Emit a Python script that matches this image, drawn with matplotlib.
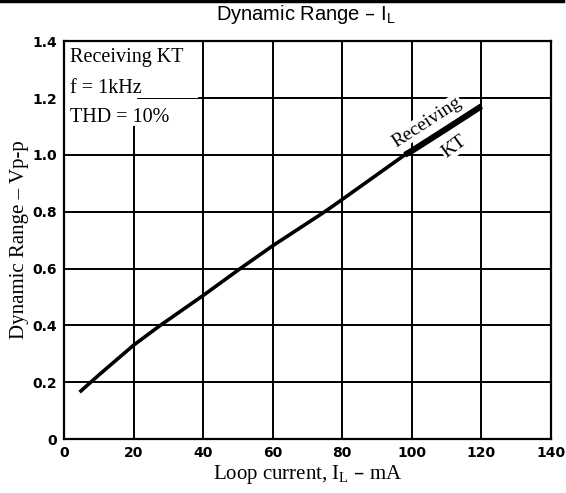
import matplotlib.pyplot as plt
from matplotlib.patches import Rectangle
from matplotlib.lines import Line2D
import numpy as np

# curve
loop_current = [4.5, 10, 20, 27.7, 40, 50.7, 60, 75, 80, 98, 100, 110, 120]
dynamic_range = [0.165, 0.225, 0.33, 0.40, 0.505, 0.60, 0.68, 0.80, 0.843, 1.0, 1.014, 1.092, 1.171]

x_ticks = [0, 20, 40, 60, 80, 100, 120, 140]
y_ticks = [0, 0.2, 0.4, 0.6, 0.8, 1.0, 1.2, 1.4]
y_tick_labels = ['0', '0.2', '0.4', '0.6', '0.8', '1.0', '1.2', '1.4']
conditions = ['Receiving KT', 'f = 1kHz', 'THD = 10%']

x = np.array(loop_current)
y = np.array(dynamic_range)

fig = plt.figure(figsize=(5.66, 4.93), dpi=100)
ax = fig.add_axes([0.113, 0.1095, 0.8604, 0.807])

ax.set_xlim(0, 140)
ax.set_ylim(0, 1.4)
ax.set_xticks(x_ticks)
ax.set_yticks(y_ticks)
ax.set_yticklabels(y_tick_labels)
ax.tick_params(length=0, pad=5)
for lab in ax.get_xticklabels() + ax.get_yticklabels():
    lab.set_fontweight('bold')
    lab.set_fontsize(10)
    lab.set_family('DejaVu Sans')

ax.grid(True, color='black', linewidth=1.4)
for s in ax.spines.values():
    s.set_linewidth(1.6)

# blank areas behind the condition text
ax.add_patch(Rectangle((0, 1.2), 38.5, 0.2, facecolor='white', edgecolor='none', zorder=1.6))
ax.add_patch(Rectangle((0, 1.1), 21, 0.1, facecolor='white', edgecolor='none', zorder=1.6))

ax.plot(x, y, color='black', linewidth=2.6, solid_capstyle='butt', zorder=3)
thick = x >= 98
ax.plot(x[thick], y[thick], color='black', linewidth=4.4, solid_capstyle='butt', zorder=3)

for txt, yb in zip(conditions, [1.326, 1.218, 1.114]):
    ax.text(1.6, yb, txt, family='Liberation Serif', fontsize=14.5,
            va='baseline', ha='left', zorder=4)

ax.text(104.3, 1.115, 'Receiving', family='Liberation Serif', fontsize=14, rotation=33,
        ha='center', va='center', zorder=2,
        bbox=dict(facecolor='white', edgecolor='none', pad=0.5))
ax.text(112.2, 1.029, 'KT', family='Liberation Serif', fontsize=14, rotation=36,
        ha='center', va='center', zorder=2,
        bbox=dict(facecolor='white', edgecolor='none', pad=0.5))

ax.set_xlabel(r'Loop current, I$_\mathregular{L}$ – mA', family='Liberation Serif', fontsize=15, labelpad=2)
ax.set_ylabel('Dynamic Range – Vp-p', family='Liberation Serif', fontsize=15, labelpad=2)

fig.text(0.54, 1 - 20 / 493, r'Dynamic Range – I$_\mathregular{L}$', family='Liberation Sans',
         fontsize=14.5, ha='center', va='baseline')

# heavy rule along the top of the page
fig.add_artist(Line2D([0, 0.995], [0.997, 0.997], color='black', linewidth=2.5,
                      transform=fig.transFigure))

fig.savefig('out.png', dpi=100)
